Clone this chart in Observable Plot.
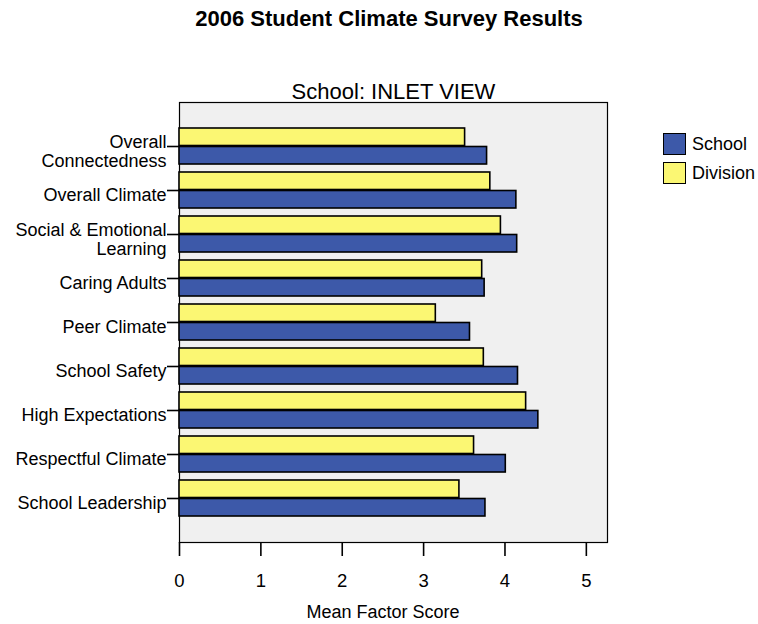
<!DOCTYPE html>
<html><head><meta charset="utf-8">
<script src="https://cdn.jsdelivr.net/npm/d3@7"></script>
<script src="https://cdn.jsdelivr.net/npm/@observablehq/plot@0.6"></script>
<style>
body{margin:0;background:#fff;font-family:"Liberation Sans",Arial,sans-serif;color:#000;}
#wrap{position:relative;width:758px;height:624px;}
#title{height:40px;box-sizing:border-box;padding-top:8px;padding-left:20px;text-align:center;font-weight:bold;font-size:22px;line-height:22px;}
#legend{position:absolute;left:663px;top:133px;font-size:18px;}
.item{display:flex;align-items:center;height:22px;margin-bottom:7px;}
.sw{width:23px;height:22px;box-sizing:border-box;border:1.5px solid #000;margin-right:6px;}
</style></head><body>
<div id="wrap">
<div id="title">2006 Student Climate Survey Results</div>
<div id="chart"></div>
<div id="legend"></div>
</div>
<script>
const categories = ["Overall Connectedness","Overall Climate","Social & Emotional Learning","Caring Adults","Peer Climate","School Safety","High Expectations","Respectful Climate","School Leadership"];
const tickLabels = ["Overall\nConnectedness","Overall Climate","Social & Emotional\nLearning","Caring Adults","Peer Climate","School Safety","High Expectations","Respectful Climate","School Leadership"];
const schoolValues = [3.78, 4.14, 4.15, 3.75, 3.57, 4.16, 4.41, 4.01, 3.76];
const divisionValues = [3.51, 3.82, 3.95, 3.72, 3.15, 3.74, 4.26, 3.62, 3.44];
const seriesNames = ["School","Division"];
const seriesColors = ["#3d59a9","#fbf773"];
const xTicks = [0,1,2,3,4,5];
const panelTitle = "School: INLET VIEW";
const xLabel = "Mean Factor Score";

const school = categories.map((c,i)=>({category:c, value:schoolValues[i]}));
const division = categories.map((c,i)=>({category:c, value:divisionValues[i]}));
const labelOf = new Map(categories.map((c,i)=>[c, tickLabels[i]]));
const halfBand = 18.5;
const font = '"Liberation Sans", Arial, sans-serif';

const plot = Plot.plot({
  width: 758, height: 584,
  marginTop: 62, marginBottom: 82, marginLeft: 179, marginRight: 151,
  style: {fontFamily: font, fontSize: "18px", color: "#000", background: "#fff"},
  x: {domain: [0, 5.26]},
  y: {domain: categories, paddingInner: 0.178, paddingOuter: 0, insetTop: 21.3, insetBottom: 22},
  marks: [
    Plot.frame({fill: "#f0f0f0", stroke: "#000", strokeWidth: 1.2}),
    Plot.barX(division, {x: "value", y: "category", fill: seriesColors[1], stroke: "#000", strokeWidth: 1.6, insetBottom: halfBand}),
    Plot.barX(school, {x: "value", y: "category", fill: seriesColors[0], stroke: "#000", strokeWidth: 1.6, insetTop: halfBand}),
    Plot.axisX({ticks: xTicks, tickFormat: d3.format("d"), tickSize: 14, tickPadding: 17, label: null, fontSize: 18.5, strokeWidth: 1.6}),
    Plot.axisY({tickSize: 12, tickFormat: () => "", label: null, strokeWidth: 1.6}),
    Plot.axisY({tickSize: 0, tickPadding: 13, dy: 5, tickFormat: d => labelOf.get(d), label: null, fontSize: 18, lineHeight: 1.03, textAnchor: "end"}),
    Plot.text([xLabel], {x: () => (xTicks[0] + xTicks[xTicks.length-1]) / 2, text: d => d, frameAnchor: "bottom", lineAnchor: "bottom", dy: 75, fontSize: 18, fill: "#000"}),
    Plot.text([panelTitle], {text: d => d, frameAnchor: "top", lineAnchor: "bottom", dy: -4, fontSize: 22, fill: "#000"})
  ]
});
document.getElementById("chart").appendChild(plot);

const legend = document.getElementById("legend");
seriesNames.forEach((name, i) => {
  const item = document.createElement("div");
  item.className = "item";
  const sw = document.createElement("div");
  sw.className = "sw";
  sw.style.background = seriesColors[i];
  const label = document.createElement("span");
  label.textContent = name;
  item.appendChild(sw); item.appendChild(label);
  legend.appendChild(item);
});
</script>
</body></html>
